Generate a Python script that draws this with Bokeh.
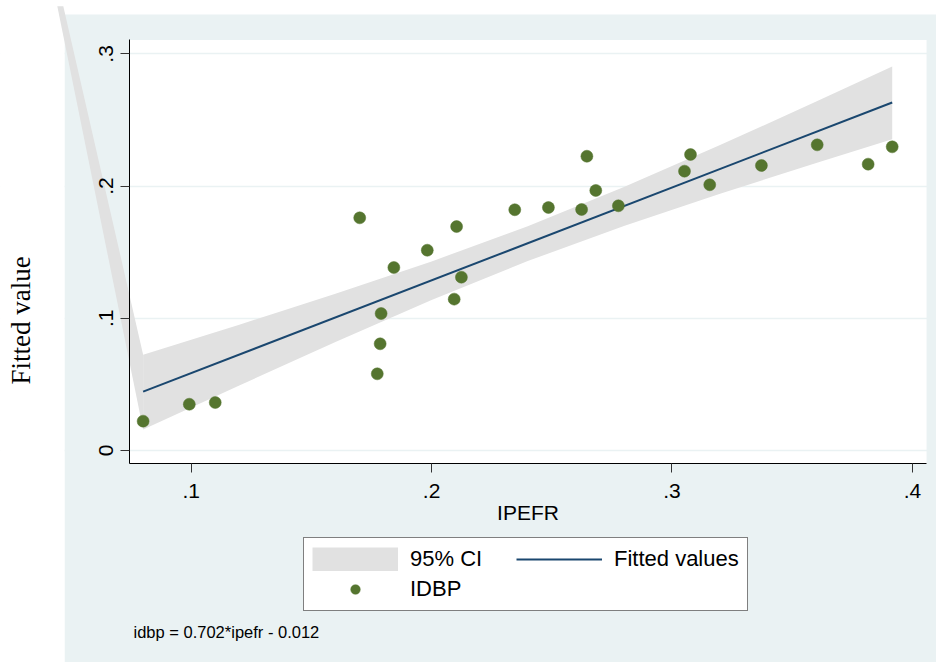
import math
from bokeh.plotting import figure
from bokeh.models import (Range1d, FixedTicker, Legend, LegendItem, Label,
                          BoxAnnotation, PolyAnnotation)
from bokeh.embed import file_html
from bokeh.resources import INLINE

# ---- data ----
ipefr = [0.0800, 0.0992, 0.1100, 0.1701, 0.1774, 0.1786, 0.1790, 0.1843, 0.1982,
         0.2104, 0.2094, 0.2124, 0.2346, 0.2486, 0.2646, 0.2624, 0.2683, 0.2777,
         0.3077, 0.3052, 0.3157, 0.3372, 0.3604, 0.3816, 0.3916]
idbp = [0.0222, 0.0350, 0.0363, 0.1760, 0.0580, 0.0807, 0.1036, 0.1384, 0.1515,
        0.1694, 0.1145, 0.1311, 0.1821, 0.1838, 0.2226, 0.1823, 0.1967, 0.1851,
        0.2239, 0.2113, 0.2010, 0.2156, 0.2312, 0.2166, 0.2297]

fit_x = [0.0800, 0.3916]
fit_y = [0.0445, 0.2632]

ci_x = [0.080, 0.12, 0.16, 0.20, 0.24, 0.28, 0.32, 0.36, 0.3916]
ci_lo = [0.0158, 0.0492, 0.0821, 0.1138, 0.1433, 0.1699, 0.1942, 0.2175, 0.2355]
ci_hi = [0.0725, 0.0952, 0.1185, 0.1430, 0.1697, 0.1993, 0.2310, 0.2639, 0.2905]

# stray piece of the CI area that the original draws beyond the plot region
ci_stray_x = [0.0443, 0.0468, 0.080, 0.080]
ci_stray_y = [0.336, 0.336, 0.0725, 0.0158]

x_ticks = [0.1, 0.2, 0.3, 0.4]
x_tick_labels = [".1", ".2", ".3", ".4"]
y_ticks = [0.0, 0.1, 0.2, 0.3]
y_tick_labels = ["0", ".1", ".2", ".3"]

x_title = "IPEFR"
y_title = "Fitted value"
note_text = "idbp = 0.702*ipefr - 0.012"

# ---- layout / styling ----
W, H = 936, 662
# data window of the whole canvas, and of the white plot region
X_VIEW = (0.02067, 0.41003)
Y_VIEW = (-0.16036, 0.34039)
PLOT_X = (0.0745, 0.4059)
PLOT_Y = (-0.0102, 0.3106)

BG = "#EAF2F3"
BAND = "#E1E1E1"
NAVY = "#1A476F"
GREEN = "#55752F"
SANS = "Liberation Sans"
SERIF = "Liberation Serif"

p = figure(width=W, height=H, output_backend="svg", toolbar_location=None,
           title=None,
           x_range=Range1d(*X_VIEW), y_range=Range1d(*Y_VIEW),
           min_border=0, min_border_left=0, min_border_right=0,
           min_border_top=0, min_border_bottom=0,
           background_fill_color="white", border_fill_color="white",
           outline_line_color=None)

# graph region (light blue-grey) and white plot region
p.add_layout(BoxAnnotation(left=64, right=W + 20, bottom=-20, top=H - 14,
                           left_units="screen", right_units="screen",
                           bottom_units="screen", top_units="screen",
                           fill_color=BG, fill_alpha=1, line_color=None,
                           level="image"))
p.add_layout(BoxAnnotation(left=PLOT_X[0], right=PLOT_X[1],
                           bottom=PLOT_Y[0], top=PLOT_Y[1],
                           fill_color="white", fill_alpha=1, line_color=None,
                           level="image"))

p.xgrid.visible = False
p.ygrid.ticker = FixedTicker(ticks=y_ticks)
p.ygrid.grid_line_color = BG
p.ygrid.grid_line_width = 1.5

# keep the page margin at the left white
p.add_layout(BoxAnnotation(left=-20, right=64, bottom=-20, top=H + 20,
                           left_units="screen", right_units="screen",
                           bottom_units="screen", top_units="screen",
                           fill_color="white", fill_alpha=1, line_color=None,
                           level="underlay"))

p.add_layout(PolyAnnotation(xs=ci_stray_x, ys=ci_stray_y, fill_color=BAND,
                            fill_alpha=1, line_color=None, level="underlay"))

band = p.varea(x=ci_x, y1=ci_lo, y2=ci_hi, fill_color=BAND, fill_alpha=1)
fit = p.line(fit_x, fit_y, line_color=NAVY, line_width=2)
dots = p.scatter(ipefr, idbp, size=12, fill_color=GREEN, line_color=GREEN,
                 line_width=0.5)
# legend key for the CI: a full-size grey swatch (hidden in the plot itself)
ci_key = p.segment(x0=ci_x, y0=ci_lo, x1=ci_x, y1=ci_hi, line_color=BAND,
                   line_width=24, visible=False)

# axes, pinned to the edges of the plot region
for ax in (p.xaxis[0], p.yaxis[0]):
    ax.axis_line_color = "black"
    ax.axis_line_width = 1
    ax.major_tick_line_color = "#333333"
    ax.major_tick_out = 9
    ax.major_tick_in = 0
    ax.minor_tick_out = 0
    ax.minor_tick_in = 0
    ax.major_label_text_font = SANS
    ax.major_label_text_font_size = "21px"
    ax.major_label_text_color = "black"
    ax.axis_label_text_color = "black"
    ax.axis_label_text_font_style = "normal"

p.xaxis.fixed_location = PLOT_Y[0]
p.xaxis.bounds = PLOT_X
p.xaxis.ticker = FixedTicker(ticks=x_ticks)
p.xaxis.major_label_overrides = dict(zip(x_ticks, x_tick_labels))
p.xaxis.axis_label = x_title
p.xaxis.axis_label_text_font = SANS
p.xaxis.axis_label_text_font_size = "21px"
p.xaxis.major_label_standoff = 11
p.xaxis.axis_label_standoff = 0

p.yaxis.fixed_location = PLOT_X[0]
p.yaxis.bounds = PLOT_Y
p.yaxis.ticker = FixedTicker(ticks=y_ticks)
p.yaxis.major_label_overrides = dict(zip(y_ticks, y_tick_labels))
p.yaxis.major_label_orientation = "vertical"
p.yaxis.major_label_standoff = 8

# y title: Stata centres it on the graph, lower than the plot region centre
p.add_layout(Label(x=20.5, y=H - 320, x_units="screen", y_units="screen",
                   text=y_title, angle=math.pi / 2, text_align="center",
                   text_baseline="alphabetic", text_font=SERIF,
                   text_font_size="27px", text_color="black"))

legend = Legend(items=[LegendItem(label="95% CI", renderers=[ci_key]),
                       LegendItem(label="IDBP", renderers=[dots]),
                       LegendItem(label="Fitted values", renderers=[fit])],
                location=(303, 51), orientation="vertical", ncols=2,
                margin=0, padding=8, spacing=4,
                glyph_width=86, glyph_height=24, label_height=24,
                label_width=102, label_standoff=12,
                label_text_font=SANS, label_text_font_size="22px",
                label_text_color="black",
                inactive_fill_alpha=0,
                border_line_color="black", border_line_width=1,
                background_fill_color="white", background_fill_alpha=1)
p.add_layout(legend, "center")

p.add_layout(Label(x=133, y=30.3, x_units="screen", y_units="screen",
                   text=note_text, text_font=SANS, text_font_size="16.5px",
                   text_baseline="middle", text_color="black"))

open("out.html", "w").write(file_html(p, INLINE))
